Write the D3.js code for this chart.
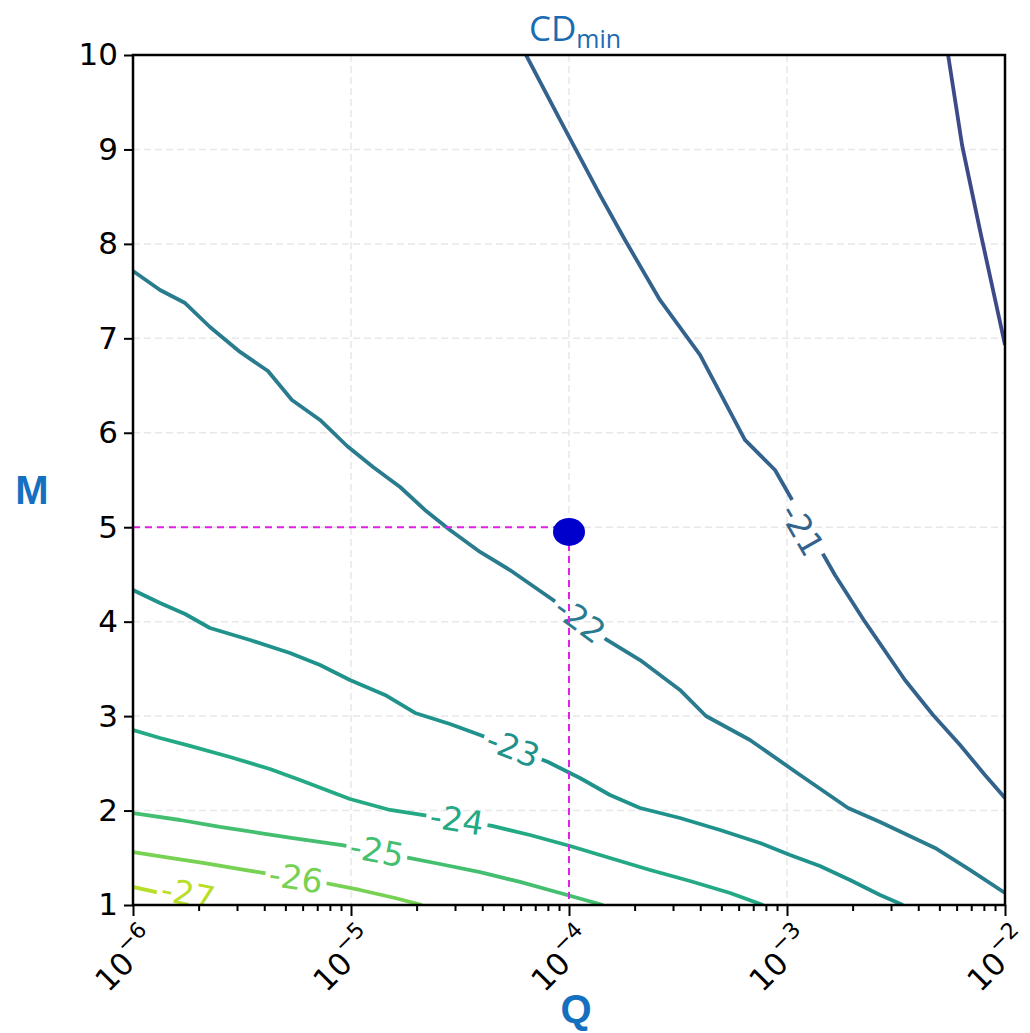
<!DOCTYPE html>
<html><head><meta charset="utf-8">
<script src="https://cdn.jsdelivr.net/npm/d3@7"></script>
<style>body{margin:0;background:#fff}</style>
</head><body>
<svg id="chart" width="1030" height="1033"></svg>
<script>
// ---- data ----
const xTicks = [1e-6, 1e-5, 1e-4, 1e-3, 1e-2];
const xTickExp = ["\u22126", "\u22125", "\u22124", "\u22123", "\u22122"];
const yTicks = [1, 2, 3, 4, 5, 6, 7, 8, 9, 10];
const levels = [-20, -21, -22, -23, -24, -25, -26, -27];

const c20_logQ = [-2.261, -2.197, -2.115, -2.000];
const c20_M    = [10.0, 9.047, 8.147, 6.930];

const c21_logQ = [-4.197, -4.041, -3.858, -3.743, -3.583, -3.399, -3.193, -3.055, -2.780, -2.642, -2.459, -2.330, -2.206, -2.092, -2.000];
const c21_M    = [10.0, 9.312, 8.518, 8.041, 7.406, 6.824, 5.924, 5.606, 4.494, 3.997, 3.382, 3.012, 2.694, 2.377, 2.133];

const c22_logQ = [-6.000, -5.876, -5.761, -5.647, -5.509, -5.381, -5.271, -5.142, -5.018, -4.899, -4.775, -4.661, -4.546, -4.408, -4.271, -4.073, -3.826, -3.674, -3.491, -3.372, -3.170, -2.940, -2.720, -2.573, -2.321, -2.161, -2.000];
const c22_M    = [7.713, 7.512, 7.374, 7.120, 6.856, 6.654, 6.347, 6.136, 5.860, 5.638, 5.426, 5.183, 4.971, 4.738, 4.547, 4.230, 3.806, 3.594, 3.277, 3.001, 2.747, 2.377, 2.027, 1.879, 1.604, 1.371, 1.127];

const c23_logQ = [-6.000, -5.876, -5.761, -5.647, -5.463, -5.280, -5.142, -5.005, -4.844, -4.706, -4.546, -4.408, -4.096, -3.950, -3.812, -3.674, -3.491, -3.307, -3.124, -2.986, -2.849, -2.711, -2.573, -2.468];
const c23_M    = [4.335, 4.198, 4.081, 3.933, 3.806, 3.668, 3.541, 3.382, 3.224, 3.033, 2.917, 2.800, 2.514, 2.345, 2.165, 2.027, 1.921, 1.794, 1.657, 1.529, 1.413, 1.265, 1.106, 1.000];

const c24_logQ = [-6.000, -5.876, -5.739, -5.555, -5.372, -5.234, -5.005, -4.821, -4.674, -4.353, -4.179, -3.995, -3.812, -3.628, -3.445, -3.261, -3.110];
const c24_M    = [2.853, 2.768, 2.684, 2.567, 2.440, 2.324, 2.122, 2.006, 1.953, 1.837, 1.741, 1.625, 1.498, 1.371, 1.254, 1.127, 1.000];

const c25_logQ = [-6.000, -5.784, -5.601, -5.417, -5.266, -5.041, -4.752, -4.592, -4.408, -4.225, -4.041, -3.844];
const c25_M    = [1.974, 1.900, 1.826, 1.762, 1.709, 1.635, 1.508, 1.434, 1.349, 1.244, 1.127, 1.000];

const c26_logQ = [-6.000, -5.830, -5.679, -5.509, -5.404, -5.119, -4.959, -4.798, -4.674];
const c26_M    = [1.561, 1.498, 1.445, 1.381, 1.339, 1.233, 1.159, 1.074, 1.000];

const c27_logQ = [-6.000, -5.899, -5.761, -5.624];
const c27_M    = [1.191, 1.138, 1.064, 1.000];

const labelLogQ = [null, -2.931, -3.950, -4.257, -4.514, -4.881, -5.252, -5.748];
const labelM    = [null, 4.971, 4.018, 2.662, 1.900, 1.572, 1.286, 1.116];

const pointQ = 1e-4, pointM = 4.95, refM = 5;

// ---- layout ----
const svg = d3.select("#chart");
const L = 133, R = 1005, T = 55, B = 905;
const x = d3.scaleLog().domain([1e-6, 1e-2]).range([L, R]);
const y = d3.scaleLinear().domain([1, 10]).range([B, T]);
const color = lv => d3.interpolateViridis(0.22 + (-20 - lv) * 0.096);

const defs = svg.append("defs");
defs.append("clipPath").attr("id", "plotclip")
  .append("rect").attr("x", L).attr("y", T).attr("width", R - L).attr("height", B - T);

// grid
const grid = svg.append("g");
xTicks.slice(1, -1).forEach(v => grid.append("line")
  .attr("x1", x(v)).attr("x2", x(v)).attr("y1", T).attr("y2", B)
  .attr("stroke", "#e8e8e8").attr("stroke-width", 1.5).attr("stroke-dasharray", "7,4"));
yTicks.slice(1, -1).forEach(v => grid.append("line")
  .attr("y1", y(v)).attr("y2", y(v)).attr("x1", L).attr("x2", R)
  .attr("stroke", "#e8e8e8").attr("stroke-width", 1.5).attr("stroke-dasharray", "7,4"));

// contours
const series = [
  [c20_logQ, c20_M], [c21_logQ, c21_M], [c22_logQ, c22_M], [c23_logQ, c23_M],
  [c24_logQ, c24_M], [c25_logQ, c25_M], [c26_logQ, c26_M], [c27_logQ, c27_M]
];
const line = d3.line().x(d => x(Math.pow(10, d[0]))).y(d => y(d[1]));
const plot = svg.append("g").attr("clip-path", "url(#plotclip)");
const fontSize = 33;

series.forEach((s, i) => {
  const lv = levels[i];
  const pts = s[0].map((q, k) => [q, s[1][k]]);
  const col = color(lv);
  const g = plot.append("g");
  const path = g.append("path").attr("d", line(pts)).attr("fill", "none")
    .attr("stroke", col).attr("stroke-width", 3.8).attr("stroke-linejoin", "round");
  if (labelLogQ[i] === null) return;
  const lx = x(Math.pow(10, labelLogQ[i])), ly = y(labelM[i]);
  const sp = pts.map(p => [x(Math.pow(10, p[0])), y(p[1])]);
  let best = 0, bd = 1e9;
  for (let k = 0; k < sp.length - 1; k++) {
    const mx = (sp[k][0] + sp[k + 1][0]) / 2, my = (sp[k][1] + sp[k + 1][1]) / 2;
    const d = (mx - lx) ** 2 + (my - ly) ** 2;
    if (d < bd) { bd = d; best = k; }
  }
  let ang = Math.atan2(sp[best + 1][1] - sp[best][1], sp[best + 1][0] - sp[best][0]) * 180 / Math.PI;
  if (ang > 90) ang -= 180; if (ang < -90) ang += 180;
  const txt = g.append("text")
    .attr("transform", `translate(${lx},${ly}) rotate(${ang})`)
    .attr("text-anchor", "middle").attr("dominant-baseline", "central")
    .attr("font-family", "DejaVu Sans").attr("font-size", fontSize)
    .attr("fill", col).text("-" + String(-lv));
  const w = txt.node().getComputedTextLength() + 8;
  const h = fontSize * 0.95;
  const m = defs.append("mask").attr("id", "mask" + i).attr("maskUnits", "userSpaceOnUse")
    .attr("x", 0).attr("y", 0).attr("width", 1030).attr("height", 1033);
  m.append("rect").attr("x", 0).attr("y", 0).attr("width", 1030).attr("height", 1033).attr("fill", "white");
  m.append("rect").attr("x", -w / 2).attr("y", -h / 2).attr("width", w).attr("height", h)
    .attr("transform", `translate(${lx},${ly}) rotate(${ang})`).attr("fill", "black");
  path.attr("mask", `url(#mask${i})`);
});

// reference lines and point
svg.append("line").attr("x1", x(1e-6)).attr("x2", x(pointQ)).attr("y1", y(refM)).attr("y2", y(refM))
  .attr("stroke", "#e41ee4").attr("stroke-width", 2).attr("stroke-dasharray", "7,5");
svg.append("line").attr("x1", x(pointQ)).attr("x2", x(pointQ)).attr("y1", y(pointM)).attr("y2", y(1))
  .attr("stroke", "#e41ee4").attr("stroke-width", 2).attr("stroke-dasharray", "7,5");
svg.append("ellipse").attr("cx", x(pointQ)).attr("cy", y(pointM)).attr("rx", 16).attr("ry", 14)
  .attr("fill", "#0000cd");

// axes
const minor = x.ticks().filter(v => !xTicks.some(t => Math.abs(t - v) / t < 1e-6));
const axMinor = svg.append("g").attr("transform", `translate(0,${B})`)
  .call(d3.axisBottom(x).tickValues(minor).tickSize(6).tickFormat(""));
const axMajor = svg.append("g").attr("transform", `translate(0,${B})`)
  .call(d3.axisBottom(x).tickValues(xTicks).tickSize(11).tickFormat(""));
[axMinor, axMajor].forEach(a => { a.select(".domain").remove(); a.selectAll("line").attr("stroke", "#000").attr("stroke-width", 2); });

xTicks.forEach((v, i) => {
  const t = svg.append("text")
    .attr("transform", `translate(${x(v) - 7},${960}) rotate(-45)`)
    .attr("text-anchor", "middle").attr("dominant-baseline", "central")
    .attr("font-family", "DejaVu Sans").attr("font-size", 31).attr("fill", "#000");
  t.append("tspan").text("10");
  t.append("tspan").attr("dy", -13).attr("font-size", 22).text(xTickExp[i]);
});

const ay = svg.append("g").attr("transform", `translate(${L},0)`)
  .call(d3.axisLeft(y).tickValues(yTicks).tickSize(9).tickPadding(6).tickFormat(d3.format("d")));
ay.select(".domain").remove();
ay.selectAll("line").attr("stroke", "#000").attr("stroke-width", 2);
ay.selectAll("text").attr("font-family", "DejaVu Sans").attr("font-size", 31).attr("fill", "#000");

// frame
svg.append("rect").attr("x", L).attr("y", T).attr("width", R - L).attr("height", B - T)
  .attr("fill", "none").attr("stroke", "#000").attr("stroke-width", 2.5);

// titles
const title = svg.append("text").attr("x", 575).attr("y", 41).attr("text-anchor", "middle")
  .attr("font-family", "Open Sans").attr("fill", "#1b6bb3").attr("font-size", 35);
title.append("tspan").text("CD");
title.append("tspan").attr("dy", 7).attr("font-size", 25).text("min");

svg.append("text").attr("x", 32).attr("y", 504).attr("text-anchor", "middle")
  .attr("font-family", "Liberation Sans").attr("font-weight", "bold").attr("font-size", 40)
  .attr("fill", "#1570c0").text("M");
svg.append("text").attr("x", 576).attr("y", 1023).attr("text-anchor", "middle")
  .attr("font-family", "Liberation Sans").attr("font-weight", "bold").attr("font-size", 40)
  .attr("fill", "#1570c0").text("Q");
</script>
</body></html>
